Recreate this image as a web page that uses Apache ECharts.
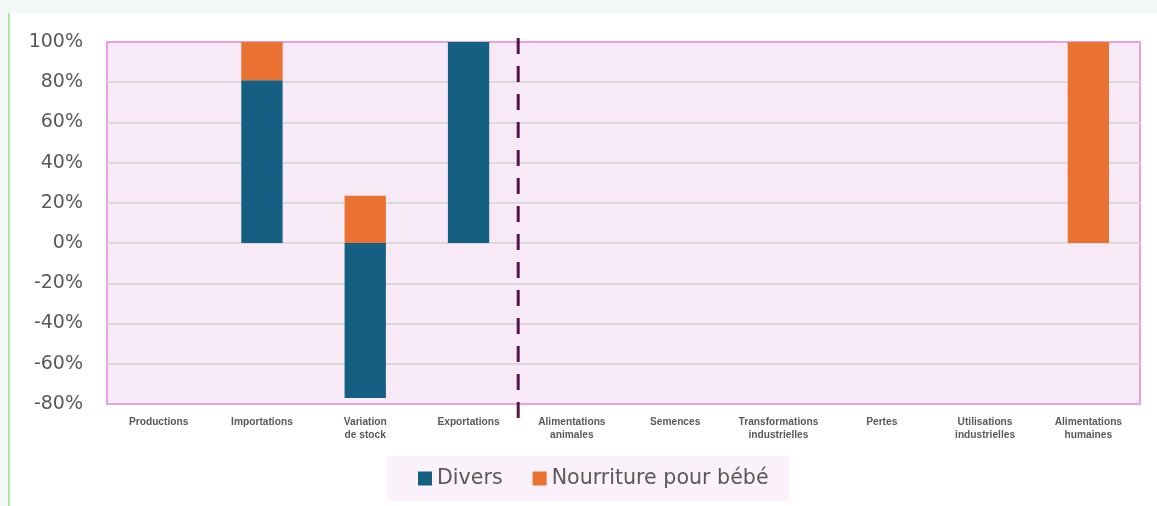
<!DOCTYPE html>
<html>
<head>
<meta charset="utf-8">
<script src="https://cdn.jsdelivr.net/npm/echarts@6/dist/echarts.min.js"></script>
<style>
  html, body { margin: 0; padding: 0; background: #F2F7F7; }
  #card { position: absolute; left: 8px; top: 13px; width: 1160px; height: 500px; background: #fff; border-left: 2px solid #B6E2A4; }
  #chart { position: absolute; left: 0; top: 0; width: 1157px; height: 506px; }
</style>
</head>
<body>
<div id="card"></div>
<div id="chart"></div>
<script>
var categories = ['Productions', 'Importations', 'Variation\nde stock', 'Exportations',
  'Alimentations\nanimales', 'Semences', 'Transformations\nindustrielles', 'Pertes',
  'Utilisations\nindustrielles', 'Alimentations\nhumaines'];
var divers = [null, 81, -77, 100, null, null, null, null, null, null];
var bebe = [null, 19, 23.5, null, null, null, null, null, null, 100];
var yTicks = { min: -80, max: 100, interval: 20 };

var myChart = echarts.init(document.getElementById('chart'));

var option = {
  backgroundColor: 'transparent',
  textStyle: { fontFamily: 'DejaVu Sans, sans-serif' },
  grid: {
    left: 107, top: 42, right: 17, bottom: 102,
    show: true,
    backgroundColor: '#F8E9F7',
    borderColor: '#E6A3E0',
    borderWidth: 2
  },
  legend: {
    left: 387, top: 456,
    padding: [12, 21, 12, 31],
    backgroundColor: '#FBF1FA',
    itemWidth: 14, itemHeight: 14,
    itemGap: 30,
    icon: 'rect',
    textStyle: { fontSize: 20.6, lineHeight: 21, color: '#595959', fontFamily: 'DejaVu Sans' },
    data: ['Divers', 'Nourriture pour bébé']
  },
  xAxis: {
    type: 'category',
    data: categories,
    axisLine: { show: false },
    axisTick: { show: false },
    axisLabel: {
      interval: 0, margin: 12,
      fontFamily: 'Liberation Sans, Arial, sans-serif',
      fontSize: 10.2, fontWeight: 'bold', color: '#595959', lineHeight: 13
    }
  },
  yAxis: {
    type: 'value',
    min: yTicks.min, max: yTicks.max, interval: yTicks.interval,
    axisLine: { show: false },
    axisTick: { show: false },
    axisLabel: { formatter: '{value}%', fontSize: 19, color: '#595959', margin: 24, padding: [3, 0, 0, 0] },
    splitLine: { showMinLine: false, showMaxLine: false, lineStyle: { color: '#D9D9D9', width: 2 } }
  },
  series: [
    {
      name: 'Divers', type: 'bar', stack: 'total', barWidth: '40%',
      itemStyle: { color: '#156082' },
      data: divers
    },
    {
      name: 'Nourriture pour bébé', type: 'bar', stack: 'total', barWidth: '40%',
      itemStyle: { color: '#E97132' },
      data: bebe
    }
  ]
};

myChart.setOption(option);

// ligne pointillée entre Exportations et Alimentations animales
var x1 = myChart.convertToPixel({ xAxisIndex: 0 }, 3);
var x2 = myChart.convertToPixel({ xAxisIndex: 0 }, 4);
var xs = (x1 + x2) / 2 - 2;
var yTop = myChart.convertToPixel({ yAxisIndex: 0 }, yTicks.max) - 4;
var yBot = myChart.convertToPixel({ yAxisIndex: 0 }, yTicks.min) + 16;
myChart.setOption({
  graphic: [{
    type: 'line',
    z: 100,
    shape: { x1: xs, y1: yTop, x2: xs, y2: yBot },
    style: { stroke: '#55154F', lineWidth: 3, lineDash: [16, 12] }
  }]
});
</script>
</body>
</html>
